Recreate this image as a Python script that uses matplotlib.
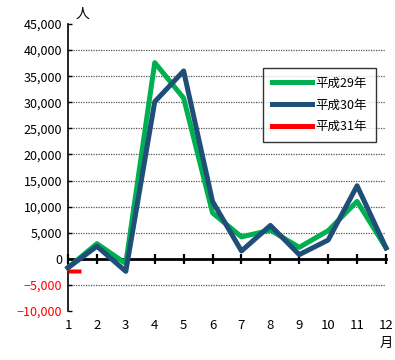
import matplotlib
matplotlib.use("Agg")
import matplotlib.pyplot as plt
from matplotlib.lines import Line2D
from matplotlib.path import Path
from matplotlib.ticker import FuncFormatter

plt.rcParams['font.family'] = ['Noto Sans CJK JP', 'DejaVu Sans']

months = [1, 2, 3, 4, 5, 6, 7, 8, 9, 10, 11, 12]
month_labels = ['1', '2', '3', '4', '5', '6', '7', '8', '9', '10', '11', '12\n月']
h29 = [-1700, 2900, -900, 37600, 30800, 8800, 4200, 5500, 2200, 5400, 11000, 2100]
h30 = [-1700, 2400, -2400, 30100, 36000, 11000, 1500, 6400, 800, 3600, 14000, 2100]
h31_months = [1]
h31 = [-2300]
series_names = ['平成29年', '平成30年', '平成31年']
colors = ['#00B050', '#1F4E79', '#FF0000']
yticks = list(range(-10000, 45001, 5000))

fig = plt.figure(figsize=(3.95, 3.6), dpi=100)
ax = fig.add_axes([68 / 395, 1 - 311 / 360, (386 - 68) / 395, (311 - 24) / 360])

# dotted gridlines, not at the top/bottom limits or at zero
for v in yticks[1:-1]:
    if v != 0:
        ax.axhline(v, color='#555555', lw=0.9, ls=(0, (1, 1)), zorder=1)

ax.plot(months, h29, color=colors[0], lw=3.6, zorder=3, clip_on=False)
ax.plot(months, h30, color=colors[1], lw=3.6, zorder=4, clip_on=False)
# single value: short dash drawn to the right of the point
dash = Path([(0, -0.17), (1, -0.17), (1, 0.17), (0, 0.17), (0, -0.17)],
            [Path.MOVETO, Path.LINETO, Path.LINETO, Path.LINETO, Path.CLOSEPOLY])
ax.plot(h31_months, h31, ls='none', marker=dash, markersize=19,
        color=colors[2], mec='none', zorder=5, clip_on=False)

ax.set_xlim(1, 12)
ax.set_ylim(-10000, 45000)
ax.set_yticks(yticks)
ax.yaxis.set_major_formatter(FuncFormatter(lambda v, p: f'{int(v):,}'.replace('-', '−')))
ax.tick_params(axis='y', direction='in', length=3, width=1, labelsize=9, pad=4)
for lbl, v in zip(ax.get_yticklabels(), yticks):
    if v < 0:
        lbl.set_color('red')

ax.spines['top'].set_visible(False)
ax.spines['right'].set_visible(False)
ax.spines['left'].set_linewidth(1.2)
ax.spines['bottom'].set_position(('data', 0))
ax.spines['bottom'].set_linewidth(2)
ax.spines['bottom'].set_zorder(2)
ax.set_xticks(months)
ax.tick_params(axis='x', direction='inout', length=7, width=1.6, labelbottom=False)

sec = ax.secondary_xaxis('bottom')
sec.set_xticks(months)
sec.set_xticklabels(month_labels)
sec.spines['bottom'].set_visible(False)
sec.tick_params(length=0, labelsize=9.5, pad=6)
for lbl in sec.get_xticklabels():
    lbl.set_verticalalignment('top')
    lbl.set_linespacing(1.5)

fig.text(83 / 395, 1 - 14 / 360, '人', fontsize=10, ha='center', va='center')

handles = [Line2D([], [], color=c, lw=3.6) for c in colors]
leg = ax.legend(handles, series_names, loc='upper left',
                bbox_to_anchor=((263 - 68) / 318, (311 - 68) / 287),
                fontsize=9, frameon=True, fancybox=False, handlelength=3.2,
                labelspacing=0.7, borderpad=0.7, handletextpad=0.3,
                borderaxespad=0)
leg.get_frame().set_edgecolor('black')
leg.get_frame().set_linewidth(1)

fig.savefig('out.png', dpi=100)
